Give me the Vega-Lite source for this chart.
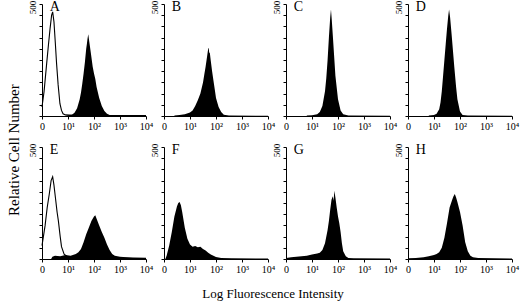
{
 "$schema": "https://vega.github.io/schema/vega-lite/v6.json",
 "background": "white",
 "padding": {"left": 6, "top": -1, "right": 3, "bottom": 2},
 "bounds": "flush",
 "spacing": {"row": 31, "column": 18},
 "columns": 4,
 "title": {"text": "Relative Cell Number", "orient": "left", "anchor": "middle", "fontSize": 15, "fontWeight": "normal", "font": "Liberation Serif", "color": "black", "offset": 6},
 "data": {"values": [
  {"p":"A","s":"o","x":0,"y":40},{"p":"A","s":"o","x":0.08,"y":110},{"p":"A","s":"o","x":0.18,"y":235},{"p":"A","s":"o","x":0.25,"y":320},{"p":"A","s":"o","x":0.31,"y":390},{"p":"A","s":"o","x":0.37,"y":450},{"p":"A","s":"o","x":0.41,"y":465},{"p":"A","s":"o","x":0.46,"y":420},{"p":"A","s":"o","x":0.51,"y":330},{"p":"A","s":"o","x":0.56,"y":235},{"p":"A","s":"o","x":0.62,"y":140},{"p":"A","s":"o","x":0.69,"y":55},{"p":"A","s":"o","x":0.75,"y":25},{"p":"A","s":"o","x":0.81,"y":10},{"p":"A","s":"o","x":0.9,"y":5},{"p":"A","s":"o","x":1.2,"y":3},{"p":"A","s":"o","x":4,"y":2},
  {"p":"A","s":"f","x":0.9,"y":0},{"p":"A","s":"f","x":1.0,"y":3},{"p":"A","s":"f","x":1.15,"y":6},{"p":"A","s":"f","x":1.25,"y":15},{"p":"A","s":"f","x":1.35,"y":35},{"p":"A","s":"f","x":1.45,"y":75},{"p":"A","s":"f","x":1.5,"y":105},{"p":"A","s":"f","x":1.55,"y":145},{"p":"A","s":"f","x":1.6,"y":190},{"p":"A","s":"f","x":1.65,"y":240},{"p":"A","s":"f","x":1.7,"y":300},{"p":"A","s":"f","x":1.73,"y":325},{"p":"A","s":"f","x":1.75,"y":345},{"p":"A","s":"f","x":1.78,"y":365},{"p":"A","s":"f","x":1.82,"y":330},{"p":"A","s":"f","x":1.88,"y":280},{"p":"A","s":"f","x":1.95,"y":220},{"p":"A","s":"f","x":2.0,"y":190},{"p":"A","s":"f","x":2.05,"y":165},{"p":"A","s":"f","x":2.1,"y":130},{"p":"A","s":"f","x":2.2,"y":80},{"p":"A","s":"f","x":2.3,"y":45},{"p":"A","s":"f","x":2.4,"y":22},{"p":"A","s":"f","x":2.5,"y":10},{"p":"A","s":"f","x":2.6,"y":5},{"p":"A","s":"f","x":2.8,"y":3},{"p":"A","s":"f","x":4,"y":2},
  {"p":"B","s":"f","x":0.4,"y":2},{"p":"B","s":"f","x":0.6,"y":5},{"p":"B","s":"f","x":0.8,"y":8},{"p":"B","s":"f","x":1.0,"y":16},{"p":"B","s":"f","x":1.1,"y":25},{"p":"B","s":"f","x":1.2,"y":45},{"p":"B","s":"f","x":1.3,"y":70},{"p":"B","s":"f","x":1.4,"y":100},{"p":"B","s":"f","x":1.5,"y":150},{"p":"B","s":"f","x":1.55,"y":185},{"p":"B","s":"f","x":1.6,"y":220},{"p":"B","s":"f","x":1.65,"y":260},{"p":"B","s":"f","x":1.68,"y":285},{"p":"B","s":"f","x":1.7,"y":300},{"p":"B","s":"f","x":1.72,"y":305},{"p":"B","s":"f","x":1.74,"y":280},{"p":"B","s":"f","x":1.76,"y":285},{"p":"B","s":"f","x":1.8,"y":245},{"p":"B","s":"f","x":1.85,"y":200},{"p":"B","s":"f","x":1.9,"y":160},{"p":"B","s":"f","x":1.95,"y":120},{"p":"B","s":"f","x":2.0,"y":80},{"p":"B","s":"f","x":2.1,"y":40},{"p":"B","s":"f","x":2.2,"y":18},{"p":"B","s":"f","x":2.3,"y":6},{"p":"B","s":"f","x":2.5,"y":2},{"p":"B","s":"f","x":4,"y":1},
  {"p":"C","s":"f","x":0.8,"y":2},{"p":"C","s":"f","x":1.0,"y":3},{"p":"C","s":"f","x":1.2,"y":8},{"p":"C","s":"f","x":1.3,"y":18},{"p":"C","s":"f","x":1.4,"y":45},{"p":"C","s":"f","x":1.5,"y":110},{"p":"C","s":"f","x":1.55,"y":170},{"p":"C","s":"f","x":1.6,"y":250},{"p":"C","s":"f","x":1.65,"y":350},{"p":"C","s":"f","x":1.7,"y":440},{"p":"C","s":"f","x":1.73,"y":475},{"p":"C","s":"f","x":1.76,"y":430},{"p":"C","s":"f","x":1.8,"y":360},{"p":"C","s":"f","x":1.85,"y":270},{"p":"C","s":"f","x":1.9,"y":180},{"p":"C","s":"f","x":2.0,"y":75},{"p":"C","s":"f","x":2.1,"y":25},{"p":"C","s":"f","x":2.2,"y":8},{"p":"C","s":"f","x":2.4,"y":2},{"p":"C","s":"f","x":4,"y":1},
  {"p":"D","s":"f","x":0.8,"y":2},{"p":"D","s":"f","x":1.0,"y":4},{"p":"D","s":"f","x":1.1,"y":10},{"p":"D","s":"f","x":1.2,"y":30},{"p":"D","s":"f","x":1.25,"y":60},{"p":"D","s":"f","x":1.3,"y":110},{"p":"D","s":"f","x":1.35,"y":180},{"p":"D","s":"f","x":1.4,"y":250},{"p":"D","s":"f","x":1.45,"y":320},{"p":"D","s":"f","x":1.5,"y":390},{"p":"D","s":"f","x":1.55,"y":450},{"p":"D","s":"f","x":1.58,"y":475},{"p":"D","s":"f","x":1.62,"y":440},{"p":"D","s":"f","x":1.68,"y":360},{"p":"D","s":"f","x":1.73,"y":290},{"p":"D","s":"f","x":1.78,"y":220},{"p":"D","s":"f","x":1.85,"y":130},{"p":"D","s":"f","x":1.9,"y":75},{"p":"D","s":"f","x":2.0,"y":20},{"p":"D","s":"f","x":2.1,"y":5},{"p":"D","s":"f","x":2.3,"y":2},{"p":"D","s":"f","x":4,"y":1},
  {"p":"E","s":"o","x":0,"y":60},{"p":"E","s":"o","x":0.12,"y":150},{"p":"E","s":"o","x":0.2,"y":230},{"p":"E","s":"o","x":0.28,"y":290},{"p":"E","s":"o","x":0.35,"y":350},{"p":"E","s":"o","x":0.41,"y":367},{"p":"E","s":"o","x":0.46,"y":330},{"p":"E","s":"o","x":0.52,"y":270},{"p":"E","s":"o","x":0.58,"y":210},{"p":"E","s":"o","x":0.63,"y":170},{"p":"E","s":"o","x":0.7,"y":100},{"p":"E","s":"o","x":0.75,"y":55},{"p":"E","s":"o","x":0.85,"y":22},{"p":"E","s":"o","x":1.0,"y":8},{"p":"E","s":"o","x":1.5,"y":5},{"p":"E","s":"o","x":4,"y":3},
  {"p":"E","s":"f","x":0.35,"y":0},{"p":"E","s":"f","x":0.4,"y":10},{"p":"E","s":"f","x":0.5,"y":15},{"p":"E","s":"f","x":0.7,"y":12},{"p":"E","s":"f","x":0.9,"y":18},{"p":"E","s":"f","x":1.1,"y":15},{"p":"E","s":"f","x":1.3,"y":22},{"p":"E","s":"f","x":1.4,"y":30},{"p":"E","s":"f","x":1.5,"y":45},{"p":"E","s":"f","x":1.6,"y":75},{"p":"E","s":"f","x":1.7,"y":110},{"p":"E","s":"f","x":1.8,"y":140},{"p":"E","s":"f","x":1.9,"y":170},{"p":"E","s":"f","x":2.0,"y":190},{"p":"E","s":"f","x":2.05,"y":195},{"p":"E","s":"f","x":2.1,"y":180},{"p":"E","s":"f","x":2.2,"y":150},{"p":"E","s":"f","x":2.3,"y":120},{"p":"E","s":"f","x":2.4,"y":95},{"p":"E","s":"f","x":2.5,"y":65},{"p":"E","s":"f","x":2.6,"y":40},{"p":"E","s":"f","x":2.7,"y":22},{"p":"E","s":"f","x":2.8,"y":14},{"p":"E","s":"f","x":3.0,"y":10},{"p":"E","s":"f","x":3.5,"y":6},{"p":"E","s":"f","x":4,"y":5},
  {"p":"F","s":"f","x":0.05,"y":0},{"p":"F","s":"f","x":0.1,"y":15},{"p":"F","s":"f","x":0.2,"y":60},{"p":"F","s":"f","x":0.3,"y":120},{"p":"F","s":"f","x":0.4,"y":190},{"p":"F","s":"f","x":0.5,"y":235},{"p":"F","s":"f","x":0.55,"y":250},{"p":"F","s":"f","x":0.6,"y":255},{"p":"F","s":"f","x":0.65,"y":240},{"p":"F","s":"f","x":0.7,"y":210},{"p":"F","s":"f","x":0.8,"y":140},{"p":"F","s":"f","x":0.9,"y":90},{"p":"F","s":"f","x":1.0,"y":65},{"p":"F","s":"f","x":1.1,"y":55},{"p":"F","s":"f","x":1.2,"y":58},{"p":"F","s":"f","x":1.3,"y":52},{"p":"F","s":"f","x":1.4,"y":55},{"p":"F","s":"f","x":1.5,"y":45},{"p":"F","s":"f","x":1.6,"y":38},{"p":"F","s":"f","x":1.7,"y":28},{"p":"F","s":"f","x":1.8,"y":20},{"p":"F","s":"f","x":1.9,"y":14},{"p":"F","s":"f","x":2.0,"y":9},{"p":"F","s":"f","x":2.2,"y":5},{"p":"F","s":"f","x":2.6,"y":3},{"p":"F","s":"f","x":4,"y":2},
  {"p":"G","s":"f","x":0,"y":5},{"p":"G","s":"f","x":0.2,"y":8},{"p":"G","s":"f","x":0.4,"y":10},{"p":"G","s":"f","x":0.6,"y":12},{"p":"G","s":"f","x":0.8,"y":15},{"p":"G","s":"f","x":1.0,"y":20},{"p":"G","s":"f","x":1.2,"y":25},{"p":"G","s":"f","x":1.3,"y":28},{"p":"G","s":"f","x":1.4,"y":40},{"p":"G","s":"f","x":1.5,"y":70},{"p":"G","s":"f","x":1.6,"y":130},{"p":"G","s":"f","x":1.65,"y":170},{"p":"G","s":"f","x":1.7,"y":220},{"p":"G","s":"f","x":1.75,"y":265},{"p":"G","s":"f","x":1.8,"y":280},{"p":"G","s":"f","x":1.83,"y":260},{"p":"G","s":"f","x":1.86,"y":305},{"p":"G","s":"f","x":1.9,"y":275},{"p":"G","s":"f","x":1.95,"y":230},{"p":"G","s":"f","x":2.0,"y":190},{"p":"G","s":"f","x":2.05,"y":160},{"p":"G","s":"f","x":2.1,"y":120},{"p":"G","s":"f","x":2.15,"y":70},{"p":"G","s":"f","x":2.2,"y":35},{"p":"G","s":"f","x":2.3,"y":12},{"p":"G","s":"f","x":2.4,"y":5},{"p":"G","s":"f","x":2.6,"y":3},{"p":"G","s":"f","x":4,"y":2},
  {"p":"H","s":"f","x":0,"y":3},{"p":"H","s":"f","x":0.3,"y":5},{"p":"H","s":"f","x":0.6,"y":8},{"p":"H","s":"f","x":0.8,"y":12},{"p":"H","s":"f","x":1.0,"y":18},{"p":"H","s":"f","x":1.1,"y":22},{"p":"H","s":"f","x":1.2,"y":30},{"p":"H","s":"f","x":1.3,"y":50},{"p":"H","s":"f","x":1.4,"y":95},{"p":"H","s":"f","x":1.5,"y":160},{"p":"H","s":"f","x":1.6,"y":230},{"p":"H","s":"f","x":1.7,"y":265},{"p":"H","s":"f","x":1.75,"y":280},{"p":"H","s":"f","x":1.8,"y":290},{"p":"H","s":"f","x":1.85,"y":275},{"p":"H","s":"f","x":1.9,"y":255},{"p":"H","s":"f","x":2.0,"y":210},{"p":"H","s":"f","x":2.1,"y":150},{"p":"H","s":"f","x":2.2,"y":75},{"p":"H","s":"f","x":2.3,"y":35},{"p":"H","s":"f","x":2.4,"y":15},{"p":"H","s":"f","x":2.5,"y":8},{"p":"H","s":"f","x":2.7,"y":4},{"p":"H","s":"f","x":4,"y":2}
 ]},
 "facet": {"field": "p", "type": "nominal", "title": "Log Fluorescence Intensity", "header": {"labels": false, "labelExpr": "''", "labelFontSize": 1, "labelPadding": 0, "titleOrient": "bottom", "titleFont": "Liberation Serif", "titleFontSize": 13, "titleFontWeight": "normal", "titleColor": "black", "titlePadding": 29}},
 "spec": {
  "width": 104,
  "height": 112,
  "encoding": {
   "x": {"field": "x", "type": "quantitative", "scale": {"domain": [0, 4], "nice": false, "zero": false},
    "axis": {"values": [0, 1, 2, 3, 4], "labelExpr": "datum.value == 0 ? '0' : '10' + ['', '¹', '²', '³', '⁴'][datum.value]", "tickSize": 3, "labelFontSize": 10, "labelPadding": 2, "labelFlush": false, "labelOverlap": false, "title": null}},
   "y": {"field": "y", "type": "quantitative", "scale": {"domain": [0, 500], "nice": false},
    "axis": {"values": [0, 50, 100, 150, 200, 250, 300, 350, 400, 450, 500], "labelExpr": "datum.value == 500 ? '500' : ''", "labelAngle": -90, "labelAlign": "center", "labelBaseline": "bottom", "labelOffset": 3, "tickSize": 3, "labelFontSize": 9, "labelPadding": 2, "labelOverlap": false, "labelBound": false, "labelFlush": false, "title": null}}
  },
  "layer": [
   {"transform": [{"filter": "datum.s == 'f'"}], "mark": {"type": "area", "color": "black", "interpolate": "linear"}},
   {"transform": [{"filter": "datum.s == 'o'"}], "mark": {"type": "line", "color": "black", "strokeWidth": 1.1}},
   {"transform": [{"filter": "datum.s == 'f' && datum.x == 4"}], "mark": {"type": "text", "font": "Liberation Serif", "fontSize": 14, "align": "left", "baseline": "alphabetic", "color": "black"}, "encoding": {"x": {"datum": 0.3}, "y": {"datum": 468}, "text": {"field": "p", "type": "nominal"}}}
  ]
 },
 "resolve": {"axis": {"x": "independent", "y": "independent"}},
 "config": {"view": {"stroke": null}, "font": "Liberation Serif", "axis": {"grid": false, "domainColor": "black", "tickColor": "black", "labelColor": "black", "labelFont": "Liberation Serif"}}
}
